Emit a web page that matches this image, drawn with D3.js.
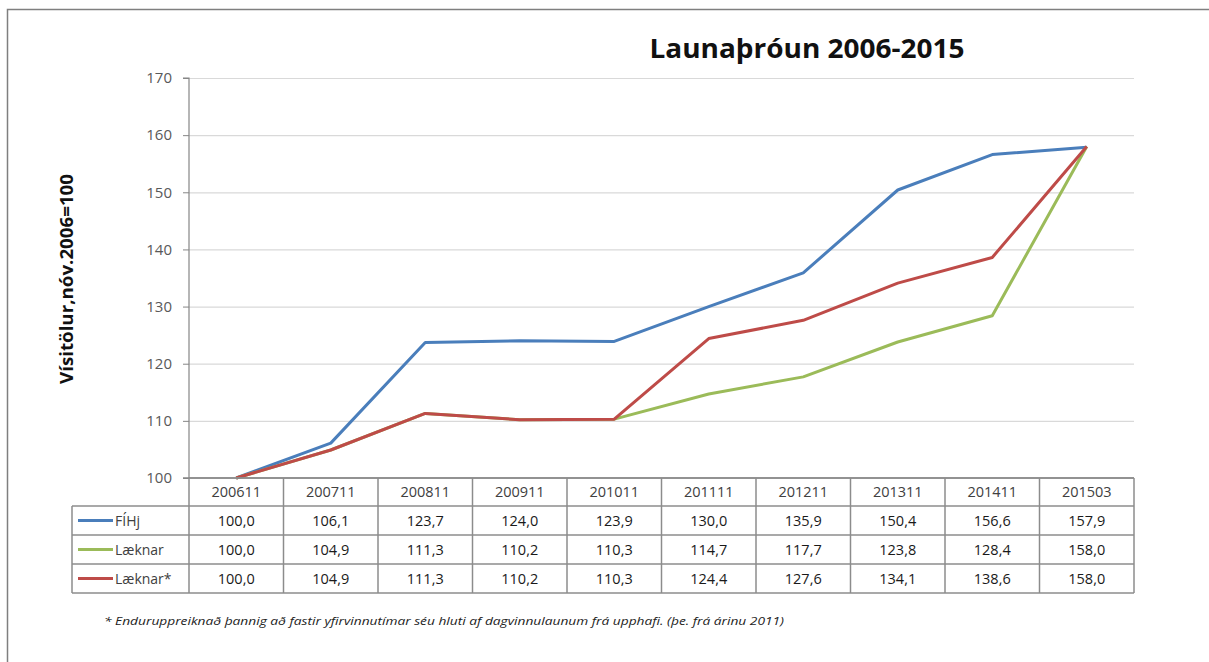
<!DOCTYPE html>
<html>
<head>
<meta charset="utf-8">
<script src="https://cdn.jsdelivr.net/npm/d3@7"></script>
<style>
  html, body { margin: 0; padding: 0; background: #fff; }
  svg { display: block; }
  text { font-family: "Open Sans", "Noto Sans", sans-serif; }
</style>
</head>
<body>
<svg id="chart" width="1209" height="662"></svg>
<script>
// ---- data ----
const categories = ["200611","200711","200811","200911","201011","201111","201211","201311","201411","201503"];
const seriesNames = ["FÍHj", "Læknar", "Læknar*"];
const fihj     = [100.0, 106.1, 123.7, 124.0, 123.9, 130.0, 135.9, 150.4, 156.6, 157.9];
const laeknar  = [100.0, 104.9, 111.3, 110.2, 110.3, 114.7, 117.7, 123.8, 128.4, 158.0];
const laeknarS = [100.0, 104.9, 111.3, 110.2, 110.3, 124.4, 127.6, 134.1, 138.6, 158.0];
const yTicks = [100, 110, 120, 130, 140, 150, 160, 170];
const titleText = "Launaþróun 2006-2015";
const yLabel = "Vísitölur,nóv.2006=100";
const footnote = "* Enduruppreiknað þannig að fastir yfirvinnutímar séu  hluti af dagvinnulaunum frá upphafi. (þe. frá árinu 2011)";

const seriesValues = [fihj, laeknar, laeknarS];
const colors = ["#4A7EBB", "#9BBB59", "#BE4B48"];

// ---- layout ----
const svg = d3.select("#chart");
const plotLeft = 189, plotRight = 1134, plotTop = 78, plotBottom = 478;
const legendLeft = 72;
const rowH = [28, 29, 29, 29];

const x = d3.scaleBand().domain(categories).range([plotLeft, plotRight]);
const y = d3.scaleLinear().domain([100, 170]).range([plotBottom, plotTop]);

// outer frame
svg.append("path")
  .attr("d", `M7.5,${662} V9.5 H1209`)
  .attr("fill", "none").attr("stroke", "#7f7f7f").attr("stroke-width", 1.5);

// gridlines
svg.append("g").selectAll("line").data(yTicks.filter(t => t > 100)).join("line")
  .attr("x1", plotLeft).attr("x2", plotRight)
  .attr("y1", d => y(d) + 0.5).attr("y2", d => y(d) + 0.5)
  .attr("stroke", "#d9d9d9").attr("stroke-width", 1.2);

// y axis
const yAxis = d3.axisLeft(y).tickValues(yTicks).tickSize(6).tickPadding(10).tickFormat(d3.format("d"));
const gy = svg.append("g").attr("transform", `translate(${plotLeft},0)`).call(yAxis);
gy.select(".domain").attr("stroke", "#868686").attr("stroke-width", 1.2).attr("d", `M-6,${plotTop}H0V${plotBottom}`);
gy.selectAll(".tick line").attr("stroke", "#868686");
gy.selectAll(".tick text").attr("fill", "#595959").style("font-size", "15px")
  .attr("x", -17);

// title
svg.append("text").attr("x", 807).attr("y", 58).attr("text-anchor", "middle")
  .style("font-size", "27px").style("font-weight", "bold").attr("fill", "#111")
  .attr("textLength", 315).attr("lengthAdjust", "spacingAndGlyphs")
  .text(titleText);

// y label
svg.append("text").attr("transform", "translate(73,279) rotate(-90)")
  .attr("text-anchor", "middle").style("font-size", "18px").style("font-weight", "bold")
  .attr("textLength", 210).attr("lengthAdjust", "spacingAndGlyphs")
  .attr("fill", "#111").text(yLabel);

// lines
const line = d3.line().x((d, i) => x(categories[i]) + x.bandwidth() / 2).y(d => y(d));
svg.append("g").selectAll("path").data(seriesValues).join("path")
  .attr("d", d => line(d))
  .attr("fill", "none")
  .attr("stroke", (d, i) => colors[i])
  .attr("stroke-width", 3)
  .attr("stroke-linejoin", "round");

// x axis line at 100
svg.append("line").attr("x1", plotLeft - 6).attr("x2", plotRight)
  .attr("y1", plotBottom).attr("y2", plotBottom)
  .attr("stroke", "#868686").attr("stroke-width", 1.5);

// ---- data table ----
const tbl = svg.append("g");
const rowY = [plotBottom];
rowH.forEach((h, i) => rowY.push(rowY[i] + h));
const tableBottom = rowY[rowY.length - 1];
const bc = "#8c8c8c", bw = 1.5;

// horizontal lines
tbl.append("line").attr("x1", plotLeft).attr("x2", plotRight).attr("y1", rowY[0]).attr("y2", rowY[0]).attr("stroke", bc).attr("stroke-width", bw);
for (let r = 1; r < rowY.length; r++) {
  tbl.append("line").attr("x1", legendLeft).attr("x2", plotRight).attr("y1", rowY[r]).attr("y2", rowY[r]).attr("stroke", bc).attr("stroke-width", bw);
}
// vertical lines
const colEdges = categories.map(c => x(c)).concat([plotRight]);
colEdges.forEach(cx => {
  tbl.append("line").attr("x1", cx).attr("x2", cx).attr("y1", rowY[0]).attr("y2", tableBottom).attr("stroke", bc).attr("stroke-width", bw);
});
tbl.append("line").attr("x1", legendLeft).attr("x2", legendLeft).attr("y1", rowY[1]).attr("y2", tableBottom).attr("stroke", bc).attr("stroke-width", bw);

// header
tbl.selectAll("text.hdr").data(categories).join("text").attr("class", "hdr")
  .attr("x", d => x(d) + x.bandwidth() / 2).attr("y", (rowY[0] + rowY[1]) / 2 + 5)
  .attr("text-anchor", "middle").style("font-size", "14.5px").attr("fill", "#404040")
  .text(d => d);

const fmt = v => d3.format(".1f")(v).replace(".", ",");
seriesValues.forEach((vals, s) => {
  const cy = (rowY[s + 1] + rowY[s + 2]) / 2;
  tbl.append("line").attr("x1", legendLeft + 6).attr("x2", legendLeft + 41)
    .attr("y1", cy).attr("y2", cy).attr("stroke", colors[s]).attr("stroke-width", 3);
  tbl.append("text").attr("x", legendLeft + 43).attr("y", cy + 5)
    .style("font-size", "14px").attr("fill", "#404040").text(seriesNames[s]);
  tbl.selectAll(null).data(vals).join("text")
    .attr("x", (d, i) => x(categories[i]) + x.bandwidth() / 2).attr("y", cy + 5)
    .attr("text-anchor", "middle").style("font-size", "14.5px").attr("fill", "#1a1a1a")
    .text(d => fmt(d));
});

// footnote
svg.append("text").attr("x", 104).attr("y", 625)
  .style("font-size", "11px").style("font-style", "italic").attr("fill", "#222")
  .attr("textLength", 680).attr("lengthAdjust", "spacingAndGlyphs")
  .text(footnote);
</script>
</body>
</html>
